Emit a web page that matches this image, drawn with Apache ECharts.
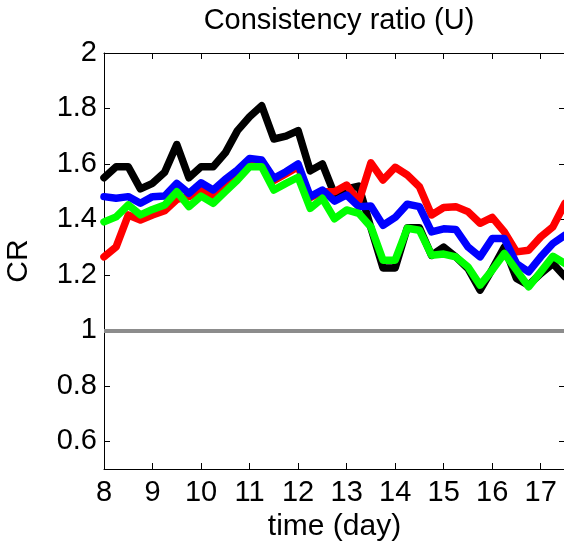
<!DOCTYPE html>
<html>
<head>
<meta charset="utf-8">
<script src="https://cdn.jsdelivr.net/npm/echarts@6/dist/echarts.min.js"></script>
<style>
  html, body { margin: 0; padding: 0; background: #fff; }
  #chart { width: 564px; height: 546px; }
</style>
</head>
<body>
<div id="chart"></div>
<script>
// Sampling times (days), every 6 hours from day 8 to day 17.5
const times = [8, 8.25, 8.5, 8.75, 9, 9.25, 9.5, 9.75, 10, 10.25, 10.5, 10.75, 11, 11.25, 11.5, 11.75,
  12, 12.25, 12.5, 12.75, 13, 13.25, 13.5, 13.75, 14, 14.25, 14.5, 14.75, 15, 15.25, 15.5, 15.75,
  16, 16.25, 16.5, 16.75, 17, 17.25, 17.5];

// Consistency ratio series
const crBlack = [1.55, 1.59, 1.59, 1.51, 1.53, 1.57, 1.67, 1.55, 1.59, 1.59, 1.64, 1.72, 1.77, 1.81, 1.69, 1.70,
  1.72, 1.575, 1.60, 1.49, 1.51, 1.52, 1.37, 1.225, 1.225, 1.37, 1.37, 1.27, 1.30, 1.265, 1.223, 1.145,
  1.22, 1.30, 1.187, 1.163, 1.205, 1.241, 1.193];
const crRed = [1.265, 1.301, 1.416, 1.398, 1.416, 1.431, 1.472, 1.482, 1.506, 1.484, 1.52, 1.565, 1.61, 1.60, 1.54, 1.565,
  1.59, 1.478, 1.50, 1.50, 1.524, 1.464, 1.604, 1.542, 1.588, 1.56, 1.518, 1.416, 1.443, 1.446, 1.428, 1.386,
  1.407, 1.355, 1.283, 1.289, 1.337, 1.373, 1.458];
const crBlue = [1.482, 1.476, 1.482, 1.458, 1.482, 1.484, 1.530, 1.494, 1.532, 1.506, 1.545, 1.578, 1.62, 1.614, 1.548, 1.572,
  1.60, 1.482, 1.506, 1.466, 1.488, 1.446, 1.448, 1.379, 1.407, 1.455, 1.446, 1.355, 1.366, 1.364, 1.301, 1.265,
  1.331, 1.331, 1.241, 1.211, 1.265, 1.313, 1.343];
const crGreen = [1.391, 1.409, 1.452, 1.416, 1.436, 1.452, 1.50, 1.446, 1.484, 1.458, 1.50, 1.542, 1.59, 1.59, 1.506, 1.53,
  1.552, 1.44, 1.476, 1.402, 1.434, 1.422, 1.373, 1.253, 1.253, 1.368, 1.361, 1.271, 1.275, 1.265, 1.229, 1.163,
  1.217, 1.277, 1.217, 1.157, 1.211, 1.267, 1.241];

// Axis ticks
const xTicks = [8, 9, 10, 11, 12, 13, 14, 15, 16, 17];
const yTicks = [0.6, 0.8, 1, 1.2, 1.4, 1.6, 1.8, 2];
const threshold = 1;

const FONT = 'Liberation Sans';
const FS = 29;

function pairs(ys) { return times.map((t, i) => [t, ys[i]]); }

function lineSeries(name, ys, color, extra) {
  return Object.assign({
    name: name,
    type: 'line',
    data: pairs(ys),
    showSymbol: false,
    symbol: 'none',
    animation: false,
    lineStyle: { color: color, width: 7.5, join: 'round', cap: 'round' },
    itemStyle: { color: color }
  }, extra || {});
}

const chart = echarts.init(document.getElementById('chart'), null, { renderer: 'canvas' });

const xBase = {
  type: 'value', min: 8, max: 17.5, interval: 1,
  axisLine: { show: true, lineStyle: { color: '#000', width: 1 } },
  axisTick: { show: true, inside: true, length: 6, lineStyle: { color: '#000' }, customValues: xTicks },
  splitLine: { show: false }
};
const yBase = {
  type: 'value', min: 0.5, max: 2,
  axisLine: { show: true, lineStyle: { color: '#000', width: 1 } },
  axisTick: { show: true, inside: true, length: 6, lineStyle: { color: '#000' }, customValues: yTicks },
  splitLine: { show: false }
};

chart.setOption({
  backgroundColor: '#fff',
  animation: false,
  title: {
    text: 'Consistency ratio (U)',
    left: 334, top: 1, textAlign: 'center',
    textStyle: { fontFamily: FONT, fontSize: FS, fontWeight: 'normal', color: '#000' }
  },
  grid: { left: 104, right: -1, top: 53, bottom: 77, containLabel: false, outerBoundsMode: 'none' },
  xAxis: [
    Object.assign({}, xBase, {
      position: 'bottom',
      name: 'time (day)', nameLocation: 'middle', nameGap: 38,
      nameTextStyle: { fontFamily: FONT, fontSize: FS + 1, color: '#000' },
      axisLabel: { show: true, customValues: xTicks, margin: 9, fontFamily: FONT, fontSize: FS, color: '#000' }
    }),
    Object.assign({}, xBase, { position: 'top', axisLabel: { show: false } })
  ],
  yAxis: [
    Object.assign({}, yBase, {
      position: 'left',
      name: 'CR', nameLocation: 'middle', nameGap: 70,
      nameTextStyle: { fontFamily: FONT, fontSize: FS + 1, color: '#000' },
      axisLabel: { show: true, customValues: yTicks, margin: 7, fontFamily: FONT, fontSize: FS, color: '#000' }
    }),
    Object.assign({}, yBase, { position: 'right', axisLabel: { show: false } })
  ],
  series: [
    lineSeries('black', crBlack, '#000000', {
      markLine: {
        silent: true, symbol: 'none', animation: false,
        label: { show: false },
        lineStyle: { color: '#8c8c8c', width: 4, type: 'solid' },
        data: [{ yAxis: threshold }]
      }
    }),
    lineSeries('red', crRed, '#ff0000'),
    lineSeries('blue', crBlue, '#0000ff'),
    lineSeries('green', crGreen, '#00ff00')
  ]
});
</script>
</body>
</html>
